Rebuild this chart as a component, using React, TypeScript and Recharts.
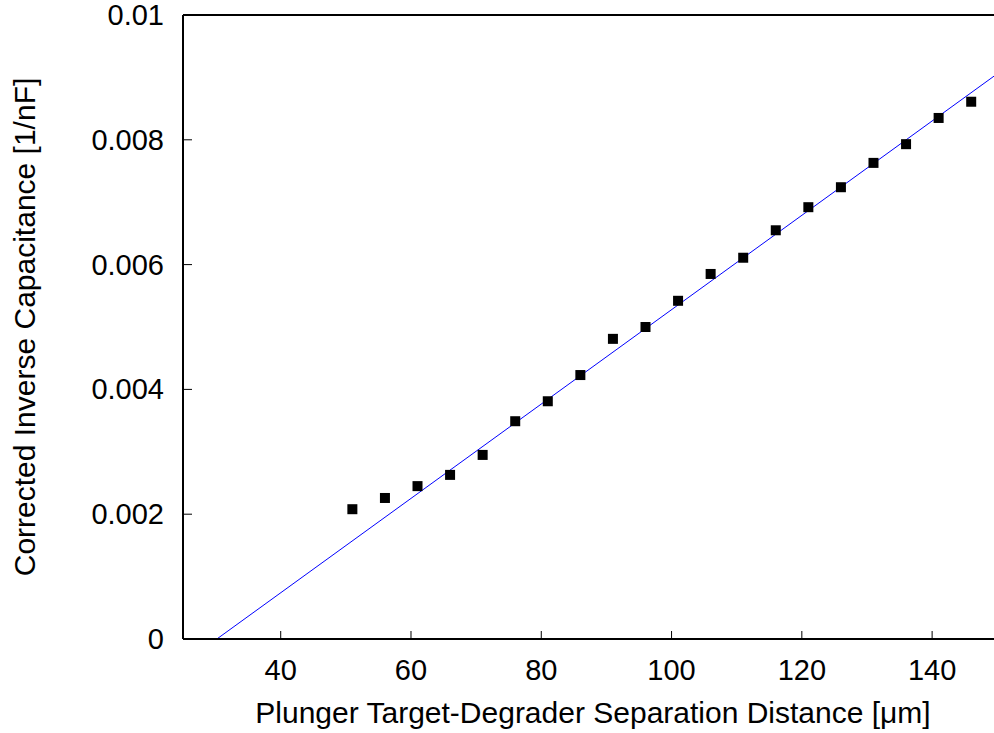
import React from 'react'
import { ComposedChart, Scatter, Line, XAxis, YAxis, ReferenceLine } from 'recharts'

// measured points
const separation = [51, 56, 61, 66, 71, 76, 81, 86, 91, 96, 101, 106, 111, 116, 121, 126, 131, 136, 141, 146]
const invCap = [
  0.00208, 0.00226, 0.00245, 0.00263, 0.00295, 0.00349, 0.00381, 0.00423, 0.00481, 0.00500,
  0.00542, 0.00585, 0.00611, 0.00655, 0.00692, 0.00724, 0.00763, 0.00793, 0.00835, 0.00861,
]

// linear fit, endpoints
const fitX = [30.2, 149.5]
const fitY = [0, 0.00902]

const xTicks = [40, 60, 80, 100, 120, 140]
const yTicks = [0, 0.002, 0.004, 0.006, 0.008, 0.01]
const yTickLabels = ['0', '0.002', '0.004', '0.006', '0.008', '0.01']

const points = separation.map((x, i) => ({ x, y: invCap[i] }))
const fit = fitX.map((x, i) => ({ x, y: fitY[i] }))

const FONT = '"Liberation Sans", Arial, Helvetica, sans-serif'

const XTick = (props: any) => {
  const { x, y, payload } = props
  return (
    <g>
      <line x1={x} y1={y} x2={x} y2={y - 8} stroke="#000" strokeWidth={1} />
      <text x={x} y={y + 41} textAnchor="middle" fontSize={29} fontFamily={FONT} fill="#000">
        {payload.value}
      </text>
    </g>
  )
}

const YTick = (props: any) => {
  const { x, y, payload } = props
  const idx = yTicks.findIndex(v => Math.abs(v - payload.value) < 1e-9)
  return (
    <g>
      <line x1={x} y1={y} x2={x + 9} y2={y} stroke="#000" strokeWidth={1} />
      <text x={x - 19} y={y + 10} textAnchor="end" fontSize={29} fontFamily={FONT} fill="#000">
        {idx >= 0 ? yTickLabels[idx] : payload.value}
      </text>
    </g>
  )
}

const Square = (props: any) => {
  const { cx, cy } = props
  return <rect x={cx - 5} y={cy - 5} width={10} height={10} fill="#000" />
}

export default function App() {
  return (
    <div style={{ position: 'absolute', left: 0, top: 0, width: 994, height: 733, background: '#fff' }}>
      <ComposedChart width={994} height={733} margin={{ top: 15, right: 0, left: 83, bottom: 34 }}>
        <XAxis
          dataKey="x"
          type="number"
          domain={[25, 149.5]}
          ticks={xTicks}
          allowDataOverflow
          height={60}
          tickSize={0}
          tickMargin={0}
          tickLine={false}
          axisLine={{ stroke: '#000', strokeWidth: 2 }}
          tick={<XTick />}
        />
        <YAxis
          dataKey="y"
          type="number"
          domain={[0, 0.01]}
          ticks={yTicks}
          allowDataOverflow
          width={100}
          tickSize={0}
          tickMargin={0}
          tickLine={false}
          axisLine={{ stroke: '#000', strokeWidth: 2 }}
          tick={<YTick />}
        />
        <ReferenceLine y={0.01} stroke="#000" strokeWidth={2} />
        <Line
          data={fit}
          dataKey="y"
          type="linear"
          stroke="#0000ff"
          strokeWidth={1}
          dot={false}
          activeDot={false}
          isAnimationActive={false}
        />
        <Scatter data={points} dataKey="y" shape={<Square />} isAnimationActive={false} />
        <text x={593} y={723} textAnchor="middle" fontSize={30} fontFamily={FONT} fill="#000">
          Plunger Target-Degrader Separation Distance [μm]
        </text>
        <text
          x={35}
          y={327}
          transform="rotate(-90 35 327)"
          textAnchor="middle"
          fontSize={30}
          fontFamily={FONT}
          fill="#000"
        >
          Corrected Inverse Capacitance [1/nF]
        </text>
      </ComposedChart>
    </div>
  )
}
